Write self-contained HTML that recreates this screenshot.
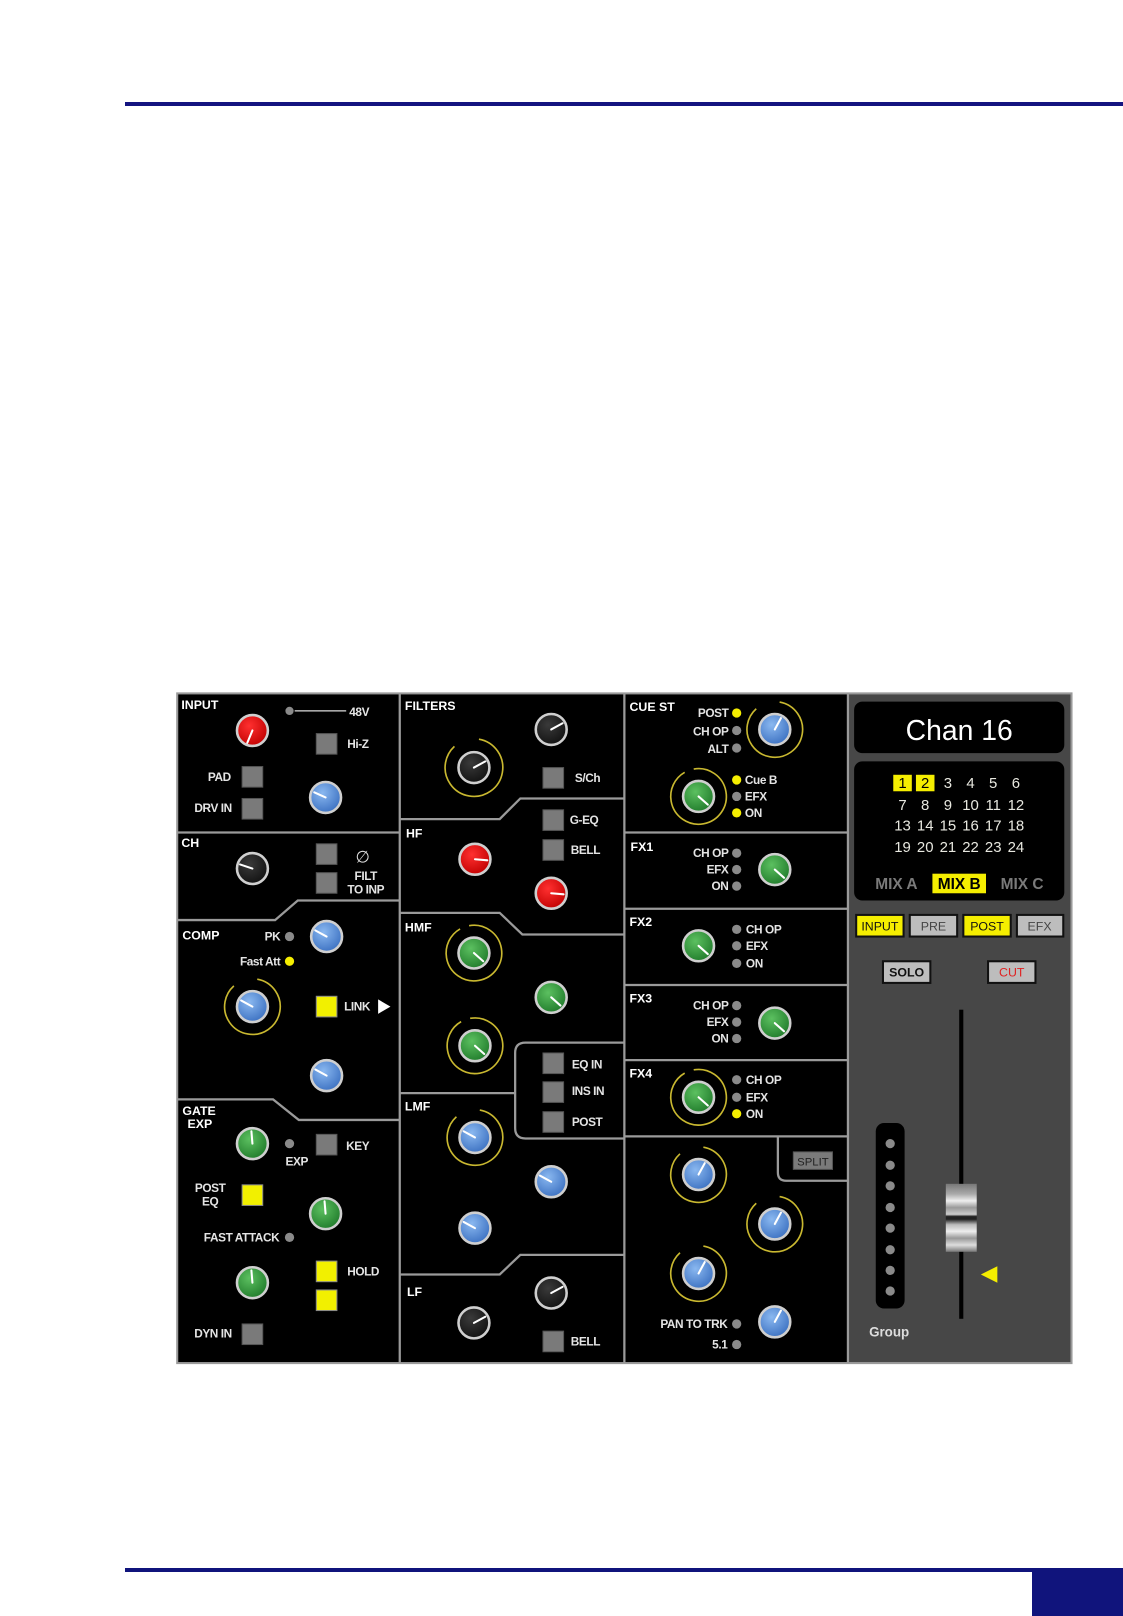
<!DOCTYPE html>
<html><head><meta charset="utf-8"><style>
html,body{margin:0;padding:0;background:#fff;}
svg{display:block;}
text{font-family:"Liberation Sans",sans-serif;}
.t{fill:#fff;font-weight:bold;font-size:12px;}
.l{fill:#e4e4e4;font-size:11.5px;font-weight:bold;letter-spacing:-0.4px;}
.lr{fill:#e4e4e4;font-size:11.5px;text-anchor:end;font-weight:bold;letter-spacing:-0.4px;}
.lc{fill:#e4e4e4;font-size:11.5px;text-anchor:middle;font-weight:bold;letter-spacing:-0.4px;}
.sep{stroke:#9a9a9a;stroke-width:2.2;fill:none;}
.btn{fill:#7a7a7a;stroke:#555;stroke-width:1;}
.ylw{fill:#f2f000;stroke:#888;stroke-width:1;}
.dg{fill:#8a8a8a;}
.dy{fill:#f5ee00;}
.ring{fill:none;stroke:#c9b830;stroke-width:1.6;}
.ind{stroke:#fff;stroke-width:2;stroke-linecap:round;}
.n{fill:#e8e8e0;font-size:14.5px;text-anchor:middle;}
</style></head><body>
<svg width="1123" height="1616" viewBox="0 0 1123 1616" xmlns="http://www.w3.org/2000/svg">
<defs>
<radialGradient id="gr" cx="40%" cy="35%" r="70%"><stop offset="0" stop-color="#ff3030"/><stop offset="1" stop-color="#c00000"/></radialGradient>
<radialGradient id="gb" cx="40%" cy="35%" r="70%"><stop offset="0" stop-color="#8ab8f0"/><stop offset="1" stop-color="#3a6fc0"/></radialGradient>
<radialGradient id="gg" cx="40%" cy="35%" r="70%"><stop offset="0" stop-color="#5cc060"/><stop offset="1" stop-color="#1f7a2a"/></radialGradient>
<radialGradient id="gk" cx="40%" cy="35%" r="70%"><stop offset="0" stop-color="#3a3a3a"/><stop offset="1" stop-color="#111"/></radialGradient>
<linearGradient id="fad" x1="0" y1="0" x2="0" y2="1">
<stop offset="0" stop-color="#777"/><stop offset="0.15" stop-color="#aaa"/><stop offset="0.25" stop-color="#eee"/><stop offset="0.35" stop-color="#999"/><stop offset="0.45" stop-color="#ccc"/><stop offset="0.48" stop-color="#222"/><stop offset="0.52" stop-color="#222"/><stop offset="0.6" stop-color="#bbb"/><stop offset="0.7" stop-color="#eee"/><stop offset="0.8" stop-color="#999"/><stop offset="0.9" stop-color="#ddd"/><stop offset="1" stop-color="#777"/></linearGradient>
</defs>

<rect x="125" y="102" width="998" height="4" fill="#141480"/>
<rect x="125" y="1568" width="998" height="4" fill="#10147c"/>
<rect x="1032" y="1568" width="91" height="48" fill="#10147c"/>

<g transform="scale(1.0303)">
<rect x="172" y="673" width="868" height="650" fill="#000"/>
<rect x="823" y="673" width="217" height="650" fill="#474747"/>
<rect x="172" y="673" width="868" height="650" fill="none" stroke="#9a9a9a" stroke-width="2"/>
<line class="sep" x1="388" y1="673" x2="388" y2="1323"/>
<line class="sep" x1="606" y1="673" x2="606" y2="1323"/>
<line class="sep" x1="823" y1="673" x2="823" y2="1323"/>

<line class="sep" x1="172" y1="808" x2="388" y2="808"/>
<polyline class="sep" points="172,893 267,893 289,874 388,874"/>
<polyline class="sep" points="172,1067 265,1067 290,1087 388,1087"/>
<polyline class="sep" points="388,795 485,795 505,775 606,775"/>
<polyline class="sep" points="388,886 485,886 507,907 606,907"/>
<line class="sep" x1="388" y1="1061" x2="500" y2="1061"/>
<path class="sep" d="M606,1012 H510 Q500,1012 500,1022 V1095 Q500,1105 510,1105 H606"/>
<polyline class="sep" points="388,1237 485,1237 505,1218 606,1218"/>
<line class="sep" x1="606" y1="808" x2="823" y2="808"/>
<line class="sep" x1="606" y1="882" x2="823" y2="882"/>
<line class="sep" x1="606" y1="956" x2="823" y2="956"/>
<line class="sep" x1="606" y1="1029" x2="823" y2="1029"/>
<line class="sep" x1="606" y1="1103" x2="823" y2="1103"/>
<path class="sep" d="M755,1103 V1138 Q755,1146 763,1146 H823"/>

<text class="t" x="176" y="688">INPUT</text>
<circle cx="281" cy="690" r="4" class="dg"/>
<line x1="286" y1="690" x2="336" y2="690" stroke="#ddd" stroke-width="1.2"/>
<text class="l" x="339" y="695">48V</text>
<rect class="btn" x="307" y="712" width="20" height="20"/><text class="l" x="337" y="726">Hi-Z</text>
<text class="lr" x="224" y="758">PAD</text><rect class="btn" x="235" y="744" width="20" height="20"/>
<text class="lr" x="225" y="788">DRV IN</text><rect class="btn" x="235" y="775" width="20" height="20"/>

<text class="t" x="176" y="822">CH</text>
<rect class="btn" x="307" y="819" width="20" height="20"/>
<rect class="btn" x="307" y="847" width="20" height="20"/>
<text x="345" y="837" fill="#ddd" font-size="16">∅</text>
<text class="lc" x="355" y="854">FILT</text>
<text class="lc" x="355" y="867">TO INP</text>

<text class="t" x="177" y="912">COMP</text>
<text class="lr" x="272" y="913">PK</text><circle cx="281" cy="909" r="4.5" class="dg"/>
<text class="lr" x="272" y="937">Fast Att</text><circle cx="281" cy="933" r="4.5" class="dy"/>
<rect class="ylw" x="307" y="967" width="20" height="20"/>
<text class="l" x="334" y="981">LINK</text>
<polygon points="367,970 379,977 367,984" fill="#fff"/>

<text class="t" x="177" y="1082">GATE</text>
<text class="t" x="182" y="1095">EXP</text>
<circle cx="281" cy="1110" r="4.5" class="dg"/>
<text class="lc" x="288" y="1131">EXP</text>
<rect class="btn" x="307" y="1101" width="20" height="20"/><text class="l" x="336" y="1116">KEY</text>
<text class="lc" x="204" y="1157">POST</text><text class="lc" x="204" y="1170">EQ</text>
<rect class="ylw" x="235" y="1150" width="20" height="20"/>
<text class="lr" x="271" y="1205">FAST ATTACK</text><circle cx="281" cy="1201" r="4.5" class="dg"/>
<rect class="ylw" x="307" y="1224" width="20" height="20"/><text class="l" x="337" y="1238">HOLD</text>
<rect class="ylw" x="307" y="1252" width="20" height="20"/>
<text class="lr" x="225" y="1298">DYN IN</text><rect class="btn" x="235" y="1285" width="20" height="20"/>

<text class="t" x="393" y="689">FILTERS</text>
<rect class="btn" x="527" y="745" width="20" height="20"/><text class="l" x="558" y="759">S/Ch</text>
<text class="t" x="394" y="813">HF</text>
<rect class="btn" x="527" y="786" width="20" height="20"/><text class="l" x="553" y="800">G-EQ</text>
<rect class="btn" x="527" y="815" width="20" height="20"/><text class="l" x="554" y="829">BELL</text>
<text class="t" x="393" y="904">HMF</text>
<rect class="btn" x="527" y="1022" width="20" height="20"/><text class="l" x="555" y="1037">EQ IN</text>
<rect class="btn" x="527" y="1050" width="20" height="20"/><text class="l" x="555" y="1063">INS IN</text>
<rect class="btn" x="527" y="1079" width="20" height="20"/><text class="l" x="555" y="1093">POST</text>
<text class="t" x="393" y="1078">LMF</text>
<text class="t" x="395" y="1258">LF</text>
<rect class="btn" x="527" y="1292" width="20" height="20"/><text class="l" x="554" y="1306">BELL</text>

<text class="t" x="611" y="690">CUE ST</text>
<text class="lr" x="707" y="696">POST</text><circle cx="715" cy="692" r="4.5" class="dy"/>
<text class="lr" x="707" y="714">CH OP</text><circle cx="715" cy="709" r="4.5" class="dg"/>
<text class="lr" x="707" y="731">ALT</text><circle cx="715" cy="726" r="4.5" class="dg"/>
<circle cx="715" cy="757" r="4.5" class="dy"/><text class="l" x="723" y="761">Cue B</text>
<circle cx="715" cy="773" r="4.5" class="dg"/><text class="l" x="723" y="777">EFX</text>
<circle cx="715" cy="789" r="4.5" class="dy"/><text class="l" x="723" y="793">ON</text>

<text class="t" x="612" y="826">FX1</text>
<text class="lr" x="707" y="832">CH OP</text><circle cx="715" cy="828" r="4.5" class="dg"/>
<text class="lr" x="707" y="848">EFX</text><circle cx="715" cy="844" r="4.5" class="dg"/>
<text class="lr" x="707" y="864">ON</text><circle cx="715" cy="860" r="4.5" class="dg"/>

<text class="t" x="611" y="899">FX2</text>
<circle cx="715" cy="902" r="4.5" class="dg"/><text class="l" x="724" y="906">CH OP</text>
<circle cx="715" cy="918" r="4.5" class="dg"/><text class="l" x="724" y="922">EFX</text>
<circle cx="715" cy="935" r="4.5" class="dg"/><text class="l" x="724" y="939">ON</text>

<text class="t" x="611" y="973">FX3</text>
<text class="lr" x="707" y="980">CH OP</text><circle cx="715" cy="976" r="4.5" class="dg"/>
<text class="lr" x="707" y="996">EFX</text><circle cx="715" cy="992" r="4.5" class="dg"/>
<text class="lr" x="707" y="1012">ON</text><circle cx="715" cy="1008" r="4.5" class="dg"/>

<text class="t" x="611" y="1046">FX4</text>
<circle cx="715" cy="1048" r="4.5" class="dg"/><text class="l" x="724" y="1052">CH OP</text>
<circle cx="715" cy="1065" r="4.5" class="dg"/><text class="l" x="724" y="1069">EFX</text>
<circle cx="715" cy="1081" r="4.5" class="dy"/><text class="l" x="724" y="1085">ON</text>

<rect x="770" y="1118" width="38" height="17" fill="#7a7a7a" stroke="#555"/>
<text x="789" y="1131" font-size="11" fill="#222" text-anchor="middle">SPLIT</text>
<text class="lr" x="706" y="1289">PAN TO TRK</text><circle cx="715" cy="1285" r="4.5" class="dg"/>
<text class="lr" x="706" y="1309">5.1</text><circle cx="715" cy="1305" r="4.5" class="dg"/>

<rect x="829" y="681" width="204" height="50" rx="8" fill="#000"/>
<text x="931" y="718" fill="#fff" font-size="28" text-anchor="middle" textLength="104" lengthAdjust="spacingAndGlyphs">Chan 16</text>
<rect x="829" y="739" width="204" height="135" rx="8" fill="#000"/>
<rect x="867" y="752" width="18" height="16" fill="#f5ee00"/>
<rect x="889" y="752" width="18" height="16" fill="#f5ee00"/>
<text class="n" x="876" y="765" style="fill:#000">1</text>
<text class="n" x="898" y="765" style="fill:#000">2</text>
<text class="n" x="920" y="765">3</text><text class="n" x="942" y="765">4</text><text class="n" x="964" y="765">5</text><text class="n" x="986" y="765">6</text>
<text class="n" x="876" y="786">7</text><text class="n" x="898" y="786">8</text><text class="n" x="920" y="786">9</text><text class="n" x="942" y="786">10</text><text class="n" x="964" y="786">11</text><text class="n" x="986" y="786">12</text>
<text class="n" x="876" y="806">13</text><text class="n" x="898" y="806">14</text><text class="n" x="920" y="806">15</text><text class="n" x="942" y="806">16</text><text class="n" x="964" y="806">17</text><text class="n" x="986" y="806">18</text>
<text class="n" x="876" y="827">19</text><text class="n" x="898" y="827">20</text><text class="n" x="920" y="827">21</text><text class="n" x="942" y="827">22</text><text class="n" x="964" y="827">23</text><text class="n" x="986" y="827">24</text>
<text x="870" y="863" fill="#7a7a7a" font-size="15" font-weight="bold" text-anchor="middle">MIX A</text>
<rect x="905" y="848" width="52" height="19" fill="#f5ee00"/>
<text x="931" y="863" fill="#000" font-size="15" font-weight="bold" text-anchor="middle">MIX B</text>
<text x="992" y="863" fill="#7a7a7a" font-size="15" font-weight="bold" text-anchor="middle">MIX C</text>

<rect x="831" y="888" width="46" height="21" fill="#f5ee00" stroke="#111" stroke-width="2"/>
<text x="854" y="903" font-size="12" text-anchor="middle" fill="#111">INPUT</text>
<rect x="883" y="888" width="46" height="21" fill="#bdbdbd" stroke="#111" stroke-width="2"/>
<text x="906" y="903" font-size="12" text-anchor="middle" fill="#444">PRE</text>
<rect x="935" y="888" width="46" height="21" fill="#f5ee00" stroke="#111" stroke-width="2"/>
<text x="958" y="903" font-size="12" text-anchor="middle" fill="#111">POST</text>
<rect x="987" y="888" width="45" height="21" fill="#bdbdbd" stroke="#111" stroke-width="2"/>
<text x="1009" y="903" font-size="12" text-anchor="middle" fill="#444">EFX</text>
<rect x="857" y="933" width="46" height="21" fill="#bdbdbd" stroke="#111" stroke-width="2"/>
<text x="880" y="948" font-size="12" font-weight="bold" text-anchor="middle" fill="#111">SOLO</text>
<rect x="959" y="933" width="46" height="21" fill="#bdbdbd" stroke="#111" stroke-width="2"/>
<text x="982" y="948" font-size="12" text-anchor="middle" fill="#e02020">CUT</text>

<rect x="850" y="1090" width="28" height="180" rx="8" fill="#000"/>
<g class="dg"><circle cx="864" cy="1110" r="4.5"/><circle cx="864" cy="1131" r="4.5"/><circle cx="864" cy="1151" r="4.5"/><circle cx="864" cy="1172" r="4.5"/><circle cx="864" cy="1192" r="4.5"/><circle cx="864" cy="1213" r="4.5"/><circle cx="864" cy="1233" r="4.5"/><circle cx="864" cy="1253" r="4.5"/></g>
<text x="863" y="1297" fill="#ddd" font-size="13" font-weight="bold" text-anchor="middle">Group</text>
<rect x="931" y="980" width="4" height="300" fill="#000"/>
<rect x="918" y="1149" width="30" height="66" fill="url(#fad)"/>
<polygon points="952,1237 968,1229 968,1245" fill="#f5ee00"/>

<g>
<circle class="ring" cx="460" cy="745" r="28" stroke-dasharray="150 26" transform="rotate(-80 460 745)"/>
<circle class="ring" cx="245" cy="977" r="27" stroke-dasharray="145 25" transform="rotate(-80 245 977)"/>
<circle class="ring" cx="460" cy="925" r="27" stroke-dasharray="160 10" transform="rotate(-100 460 925)"/>
<circle class="ring" cx="461" cy="1015" r="27" stroke-dasharray="160 10" transform="rotate(-100 461 1015)"/>
<circle class="ring" cx="461" cy="1104" r="27" stroke-dasharray="145 25" transform="rotate(-80 461 1104)"/>
<circle class="ring" cx="752" cy="708" r="27" stroke-dasharray="145 25" transform="rotate(-80 752 708)"/>
<circle class="ring" cx="678" cy="773" r="27" stroke-dasharray="160 10" transform="rotate(-100 678 773)"/>
<circle class="ring" cx="678" cy="1065" r="27" stroke-dasharray="160 10" transform="rotate(-100 678 1065)"/>
<circle class="ring" cx="678" cy="1140" r="27" stroke-dasharray="145 25" transform="rotate(-80 678 1140)"/>
<circle class="ring" cx="752" cy="1188" r="27" stroke-dasharray="145 25" transform="rotate(-80 752 1188)"/>
<circle class="ring" cx="678" cy="1236" r="27" stroke-dasharray="145 25" transform="rotate(-80 678 1236)"/>

<g stroke="#cfcfcf" stroke-width="2.5">
<circle cx="245" cy="709" r="15" fill="url(#gr)"/>
<circle cx="316" cy="774" r="15" fill="url(#gb)"/>
<circle cx="245" cy="843" r="15" fill="url(#gk)"/>
<circle cx="317" cy="909" r="15" fill="url(#gb)"/>
<circle cx="245" cy="977" r="15" fill="url(#gb)"/>
<circle cx="317" cy="1044" r="15" fill="url(#gb)"/>
<circle cx="245" cy="1110" r="15" fill="url(#gg)"/>
<circle cx="316" cy="1178" r="15" fill="url(#gg)"/>
<circle cx="245" cy="1245" r="15" fill="url(#gg)"/>
<circle cx="460" cy="745" r="15" fill="url(#gk)"/>
<circle cx="535" cy="708" r="15" fill="url(#gk)"/>
<circle cx="461" cy="834" r="15" fill="url(#gr)"/>
<circle cx="535" cy="867" r="15" fill="url(#gr)"/>
<circle cx="460" cy="925" r="15" fill="url(#gg)"/>
<circle cx="535" cy="968" r="15" fill="url(#gg)"/>
<circle cx="461" cy="1015" r="15" fill="url(#gg)"/>
<circle cx="461" cy="1104" r="15" fill="url(#gb)"/>
<circle cx="535" cy="1147" r="15" fill="url(#gb)"/>
<circle cx="461" cy="1192" r="15" fill="url(#gb)"/>
<circle cx="460" cy="1284" r="15" fill="url(#gk)"/>
<circle cx="535" cy="1255" r="15" fill="url(#gk)"/>
<circle cx="752" cy="708" r="15" fill="url(#gb)"/>
<circle cx="678" cy="773" r="15" fill="url(#gg)"/>
<circle cx="752" cy="844" r="15" fill="url(#gg)"/>
<circle cx="678" cy="918" r="15" fill="url(#gg)"/>
<circle cx="752" cy="993" r="15" fill="url(#gg)"/>
<circle cx="678" cy="1065" r="15" fill="url(#gg)"/>
<circle cx="678" cy="1140" r="15" fill="url(#gb)"/>
<circle cx="752" cy="1188" r="15" fill="url(#gb)"/>
<circle cx="678" cy="1236" r="15" fill="url(#gb)"/>
<circle cx="752" cy="1283" r="15" fill="url(#gb)"/>
</g>
<g class="ind">
<line x1="245" y1="709" x2="240" y2="721"/>
<line x1="316" y1="774" x2="305" y2="769"/>
<line x1="245" y1="843" x2="233" y2="839"/>
<line x1="317" y1="909" x2="306" y2="903"/>
<line x1="245" y1="977" x2="234" y2="971"/>
<line x1="317" y1="1044" x2="306" y2="1038"/>
<line x1="245" y1="1110" x2="244" y2="1098"/>
<line x1="316" y1="1178" x2="315" y2="1166"/>
<line x1="245" y1="1245" x2="244" y2="1233"/>
<line x1="460" y1="745" x2="471" y2="739"/>
<line x1="535" y1="708" x2="546" y2="702"/>
<line x1="461" y1="834" x2="473" y2="835"/>
<line x1="535" y1="867" x2="547" y2="868"/>
<line x1="460" y1="925" x2="469" y2="933"/>
<line x1="535" y1="968" x2="544" y2="976"/>
<line x1="461" y1="1015" x2="470" y2="1023"/>
<line x1="461" y1="1104" x2="450" y2="1098"/>
<line x1="535" y1="1147" x2="524" y2="1141"/>
<line x1="461" y1="1192" x2="450" y2="1186"/>
<line x1="460" y1="1284" x2="471" y2="1278"/>
<line x1="535" y1="1255" x2="546" y2="1249"/>
<line x1="752" y1="708" x2="758" y2="697"/>
<line x1="678" y1="773" x2="687" y2="781"/>
<line x1="752" y1="844" x2="761" y2="852"/>
<line x1="678" y1="918" x2="687" y2="926"/>
<line x1="752" y1="993" x2="761" y2="1001"/>
<line x1="678" y1="1065" x2="687" y2="1073"/>
<line x1="678" y1="1140" x2="684" y2="1129"/>
<line x1="752" y1="1188" x2="758" y2="1177"/>
<line x1="678" y1="1236" x2="684" y2="1225"/>
<line x1="752" y1="1283" x2="758" y2="1272"/>
</g>
</g>
</g>
</svg>
</body></html>
